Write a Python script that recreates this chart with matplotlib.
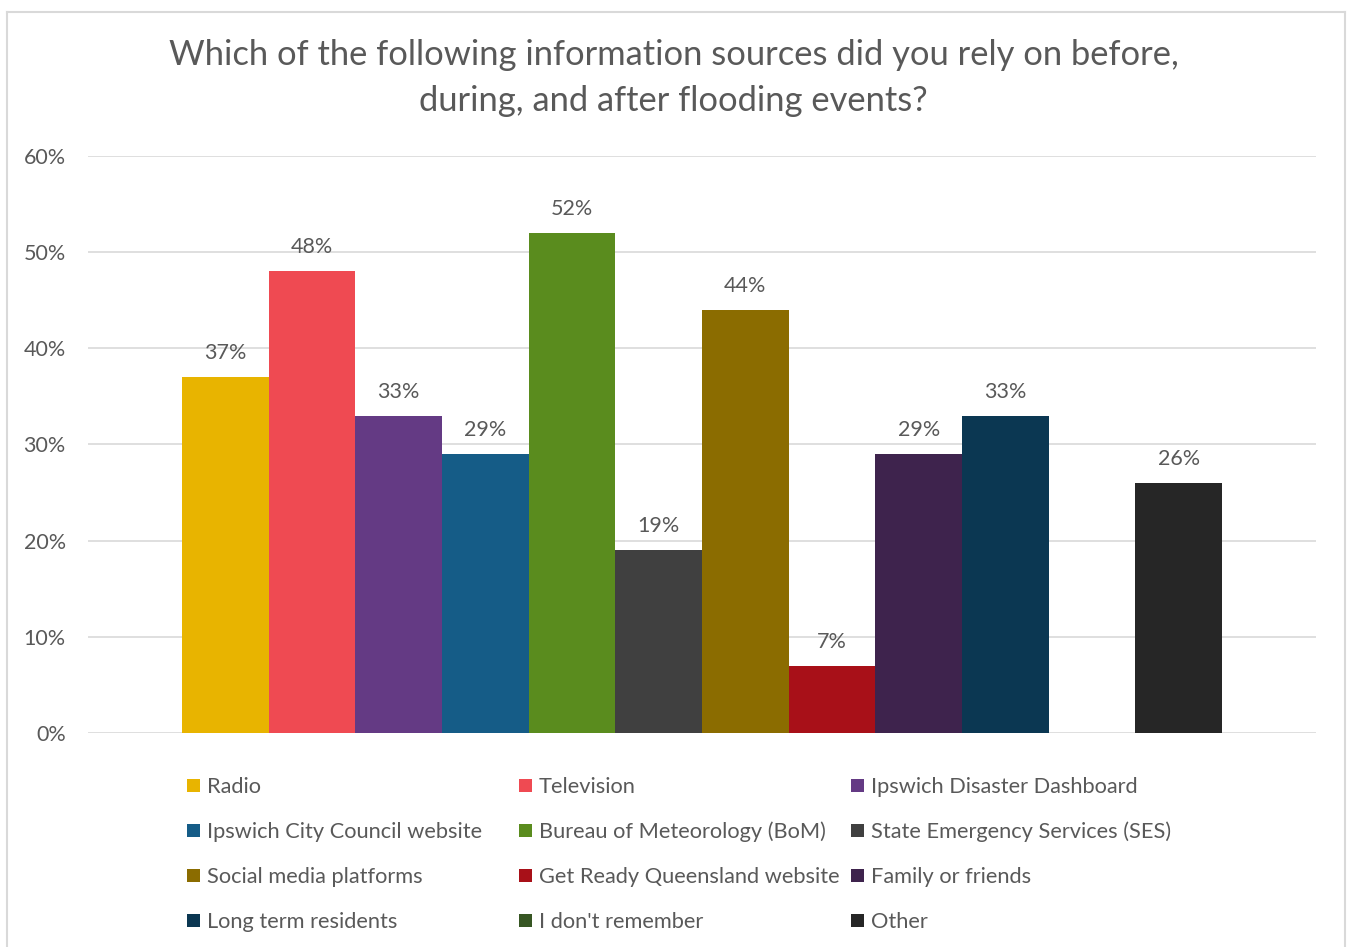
import numpy as np
import matplotlib
matplotlib.use("Agg")
import matplotlib.pyplot as plt
from matplotlib.patches import Rectangle
from matplotlib.lines import Line2D

sources = [
    "Radio", "Television", "Ipswich Disaster Dashboard",
    "Ipswich City Council website", "Bureau of Meteorology (BoM)",
    "State Emergency Services (SES)", "Social media platforms",
    "Get Ready Queensland website", "Family or friends",
    "Long term residents", "I don't remember", "Other",
]
shares = [0.37, 0.48, 0.33, 0.29, 0.52, 0.19, 0.44, 0.07, 0.29, 0.33, 0.0, 0.26]
colors = [
    "#E8B400", "#EF4A52", "#643A84", "#155C87", "#5A8C1E", "#404040",
    "#8B6C00", "#A81018", "#3E234D", "#0B3752", "#375623", "#262626",
]
y_ticks = [0.0, 0.1, 0.2, 0.3, 0.4, 0.5, 0.6]
title = ("Which of the following information sources did you rely on before,\n"
         "during, and after flooding events?")

plt.rcParams["font.family"] = ["Lato", "DejaVu Sans"]
TEXT = "#595959"
GRID = "#D9D9D9"

W, H = 1347, 947
fig = plt.figure(figsize=(W / 100, H / 100), dpi=100)
fig.patch.set_facecolor("white")

# chart frame (open at the bottom)
for xs, ys in [((7 / W, 7 / W), (0, 1 - 12 / H)),
               ((7 / W, 1345 / W), (1 - 12 / H, 1 - 12 / H)),
               ((1345 / W, 1345 / W), (0, 1 - 12 / H))]:
    fig.add_artist(Line2D(xs, ys, transform=fig.transFigure, color=GRID, lw=1.5))

ax = fig.add_axes([88 / W, 1 - 733 / H, (1316 - 88) / W, (733 - 156) / H])
x = np.arange(len(sources))
ax.bar(x, shares, width=1.0, color=colors, zorder=3)
side = 94 / 86.6
ax.set_xlim(-0.5 - side, len(sources) - 0.5 + side)
ax.set_ylim(0, 0.6)
ax.set_yticks(y_ticks)
ax.set_yticklabels([f"{int(round(t * 100))}%" for t in y_ticks])
ax.set_xticks([])
ax.tick_params(axis="y", length=0, pad=16, labelsize=15.5, labelcolor=TEXT)
ax.grid(axis="y", color=GRID, lw=1.2, zorder=0)
for s in ax.spines.values():
    s.set_visible(False)

for xi, v in zip(x, shares):
    if v > 0:
        ax.annotate(f"{int(round(v * 100))}%", (xi, v), xytext=(0, 13),
                    textcoords="offset points", ha="center", va="baseline",
                    fontsize=15.5, color=TEXT)

fig.text(0.5, 1 - 78 / H, title, ha="center", va="center", fontsize=24.8,
         color=TEXT, linespacing=1.52)

# legend: three fixed-width columns, filled row by row
col_x = [187, 519, 851]
row_y = [785, 830, 875, 920]
for i, (name, c) in enumerate(zip(sources, colors)):
    r, k = divmod(i, 3)
    cx, cy = col_x[k], row_y[r]
    fig.add_artist(Rectangle((cx / W, 1 - (cy + 6.5) / H), 13 / W, 13 / H,
                             transform=fig.transFigure, color=c, lw=0))
    fig.text((cx + 20) / W, 1 - (cy + 2) / H, name, ha="left", va="center",
             fontsize=15.7, color=TEXT)

fig.savefig("out.png", dpi=100, facecolor="white")
